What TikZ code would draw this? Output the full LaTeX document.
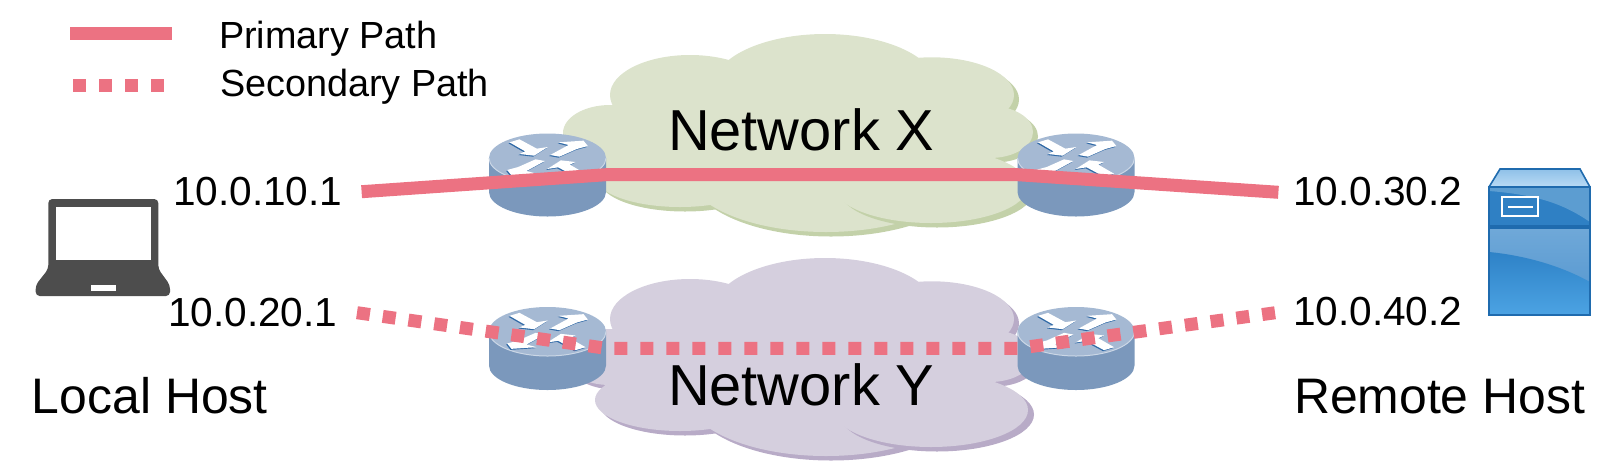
\documentclass[tikz,border=0pt]{standalone}
\usepackage{fontspec}
\setmainfont{Liberation Sans}
\definecolor{pathred}{HTML}{EC7282}
\definecolor{xfill}{HTML}{DCE3CC}
\definecolor{xshadow}{HTML}{C3D1A9}
\definecolor{yfill}{HTML}{D5CFDE}
\definecolor{yshadow}{HTML}{B8ABC7}
\definecolor{rtop}{HTML}{A5B9D3}
\definecolor{rside}{HTML}{7B98BC}
\definecolor{rrim}{HTML}{CBD7E6}
\definecolor{rdark}{HTML}{2F69A6}
\definecolor{lapcol}{HTML}{4D4D4D}
\definecolor{srvedge}{HTML}{1F6BAE}
\definecolor{srvroofA}{HTML}{8FC0E8}
\definecolor{srvroofB}{HTML}{BBDCF5}
\definecolor{srvup}{HTML}{2F80C4}
\definecolor{srvupl}{HTML}{5C9DD1}
\definecolor{srvlowA}{HTML}{6FA8D8}
\definecolor{srvlowB}{HTML}{5B9BD2}
\definecolor{srvmid}{HTML}{2E82C7}
\definecolor{srvbot}{HTML}{4CA3E3}
\tikzset{
  primarypath/.style={draw=pathred,line width=6.5pt,line join=miter},
  secondarypath/.style={draw=pathred,line width=6.5pt,dash pattern=on 6.5pt off 6.5pt,line join=miter},
  lbl/.style={anchor=base west,inner sep=0pt,outer sep=0pt,text=black},
  small/.style={lbl,font=\fontsize{18.9}{20}\selectfont},
  addr/.style={lbl,font=\fontsize{20.3}{22}\selectfont},
  host/.style={lbl,font=\fontsize{24.95}{28}\selectfont},
  net/.style={lbl,font=\fontsize{28.9}{32}\selectfont},
}
\newcommand{\lobe}[4]{(#1,#2) ellipse [x radius={#3*0.5pt}, y radius={#4*0.5pt}]}
\newcommand{\netcloud}[3]{%
  \begin{scope}[yshift={-#3*0.5pt}]
    \fill[#2,shift={(5,4.5)}] \lobe{825}{87}{112}{53} \lobe{690}{95}{80}{40} \lobe{932}{95}{82}{37.7}
      \lobe{610}{133}{47}{28} \lobe{990}{132}{43}{26} \lobe{826}{170}{140}{62} \lobe{680}{176}{85}{31};
    \fill[#1] \lobe{825}{87}{112}{53};
    \fill[#1] \lobe{690}{95}{80}{40};
    \fill[#1] \lobe{932}{95}{82}{37.7};
    \fill[#1] \lobe{610}{133}{47}{28};
    \fill[#1] \lobe{990}{132}{43}{26};
    \fill[#1] \lobe{826}{170}{140}{62};
    \fill[#1] \lobe{680}{176}{85}{31};
    \fill[#1] (620,110) -- (700,70) -- (930,70) -- (1000,110) -- (1015,140) -- (985,152) -- (900,165)
      -- (850,190) -- (800,215) -- (740,195) -- (650,190) -- (610,155) -- (575,135) -- cycle;
    \fill[#2,shift={(6,4.5)}] \lobe{931}{186}{97}{37};
    \fill[#1] \lobe{931}{186}{97}{37};
  \end{scope}}
\newcommand{\routericon}[2]{%
  \begin{scope}[shift={(#1,#2)}]
    \fill[rside] (-58.5,0) -- (-58.5,34) arc[start angle=180,end angle=360,x radius=29.25pt,y radius=12.25pt] -- (58.5,0) -- cycle;
    \fill[rtop] (0,0) ellipse [x radius=29.25pt,y radius=12.25pt];
    \draw[rrim,line width=0.5pt] (-58.5,0) arc[start angle=180,end angle=360,x radius=29.25pt,y radius=12.25pt];
    \begin{scope}[x=0.1667pt,y=-0.1667pt]
      \foreach \dd/\col in {1/rdark,0/white}{
        \begin{scope}[shift={(-3*\dd,3*\dd)}]
        \fill[\col] (-114,-47)--(-84,-56)--(-32,-28)--(1,-33)--(-40,-7)--(-84,-12)--(-67,-20)--cycle;
        \fill[\col] (8,-9)--(63,-39)--(33,-47)--(108,-52)--(121,-36)--(88,-27)--(36,-4)--cycle;
        \fill[\col] (-8,9)--(-63,39)--(-33,47)--(-108,52)--(-121,36)--(-88,27)--(-36,4)--cycle;
        \fill[\col] (114,47)--(84,56)--(32,28)--(-1,33)--(40,7)--(84,12)--(67,20)--cycle;
        \end{scope}}
    \end{scope}
  \end{scope}}
\begin{document}
\begin{tikzpicture}[x=0.5pt,y=-0.5pt]
\useasboundingbox (0,0) rectangle (1614,462);
% clouds
\netcloud{xfill}{xshadow}{0}
\netcloud{yfill}{yshadow}{224}
% routers
\routericon{547.5}{158}
\routericon{1076}{158}
\routericon{547.5}{331.5}
\routericon{1076}{331.5}
% laptop
\fill[lapcol,rounded corners=2pt]
  (48.3,269) -- (48.3,199) -- (158.3,199) -- (158.3,269) -- (170,285) -- (170,296) -- (35.7,296) -- (35.7,285) -- cycle;
\fill[white] (55.7,206.7) rectangle (150.7,260.3);
\fill[white] (90.7,284.7) rectangle (116,291.3);
% server
\shade[top color=srvroofA,bottom color=srvroofB] (1500,169) -- (1580,169) -- (1590,187.5) -- (1489,187.5) -- cycle;
\fill[srvup] (1489,187) rectangle (1590,225);
\fill[srvupl] (1489,187) -- (1590,187) -- (1590,222) .. controls (1565,205) and (1540,195) .. (1489,191) -- cycle;
\fill[srvedge] (1489,225) rectangle (1590,229);
\shade[top color=srvlowA,bottom color=srvlowB] (1489,229) rectangle (1590,285);
\shade[top color=srvmid,bottom color=srvbot] (1489,252) .. controls (1530,256) and (1565,268) .. (1590,282) -- (1590,315) -- (1489,315) -- cycle;
\draw[srvedge,line width=1pt] (1489,187) rectangle (1590,315);
\draw[srvedge,line width=0.8pt] (1489,187) -- (1500,169) -- (1580,169) -- (1590,187);
\draw[white,line width=1pt] (1502,196.7) rectangle (1538,216);
\draw[white,line width=0.8pt] (1508,206.7) -- (1532.5,206.7);
% connector end points
\coordinate (srcx) at (361.6,191.7);
\coordinate (xin) at (606,174.7);
\coordinate (xout) at (1018,174.7);
\coordinate (dstx) at (1278.4,192.3);
\coordinate (srcy) at (357,312.7);
\coordinate (yin) at (606,348.3);
\coordinate (yout) at (1018,348.3);
\coordinate (dsty) at (1278.4,312.3);
\coordinate (legaA) at (70,33.3);
\coordinate (legaB) at (171.5,33.3);
\coordinate (legbA) at (73,85.3);
\coordinate (legbB) at (164,85.3);
\draw[primarypath] (srcx) -- (xin) -- (xout) -- (dstx);
\draw[secondarypath] (srcy) -- (yin) -- (yout) -- (dsty);
\draw[primarypath] (legaA) -- (legaB);
\draw[secondarypath] (legbA) -- (legbB);
% labels
\node[small] (lp) at (219,48.3) {Primary Path};
\node[small] (ls) at (220,96.7) {Secondary Path};
\node[addr] (a1) at (173,205) {10.0.10.1};
\node[addr] (a2) at (168,326) {10.0.20.1};
\node[addr] (a3) at (1293,205) {10.0.30.2};
\node[addr] (a4) at (1293,325.7) {10.0.40.2};
\node[host] (lh) at (32,413.7) {Local Host};
\node[host] (rh) at (1294,413.3) {Remote Host};
\node[net] (nx) at (668,150) {Network X};
\node[net] (ny) at (668,405.7) {Network Y};
\end{tikzpicture}
\end{document}
